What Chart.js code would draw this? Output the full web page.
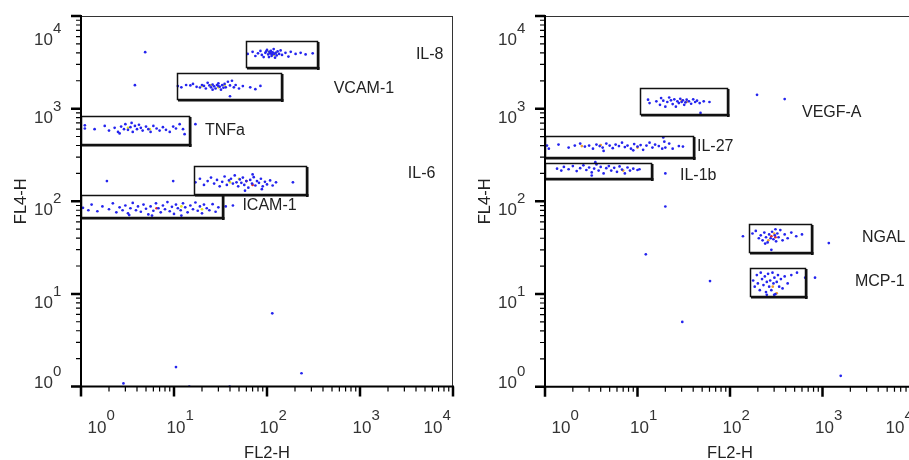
<!DOCTYPE html>
<html><head><meta charset="utf-8">
<script src="https://cdn.jsdelivr.net/npm/chart.js@4.4.1/dist/chart.umd.min.js"></script>
<style>
html,body{margin:0;padding:0;background:#fff;overflow:hidden;width:909px;height:460px;position:relative;}
#c1{position:absolute;left:0;top:0;}
#c2{position:absolute;left:460px;top:0;}
</style></head><body>
<canvas id="c1" width="460" height="460"></canvas>
<canvas id="c2" width="470" height="460"></canvas>
<script>
// ---- axes ----
const tickValues = [1, 10, 100, 1000, 10000];
const tickExponents = ['0', '1', '2', '3', '4'];
const xTitle = 'FL2-H';
const yTitle = 'FL4-H';

// ---- left plot clusters [FL2-H, FL4-H] ----
const il8 = [[62,3900],[70,4100],[75,3700],[80,3950],[85,4200],[88,3800],[92,3600],[96,4000],[100,4300],[103,3850],[106,4100],[109,3950],[112,3700],[115,4050],[118,4400],[120,3900],[124,4000],[127,3750],[130,4150],[135,3900],[140,4250],[145,3800],[158,4000],[170,3650],[180,4100],[203,3900],[230,4000],[260,3850],[310,3950],[105,3600],[98,4150],[110,4200],[114,3850],[122,3550]];
const vcam1 = [[11,1750],[12,1700],[13.5,1800],[15,1780],[16,1850],[17.5,1720],[19,1690],[20,1800],[21,1760],[22,1650],[23,1900],[24,1780],[25,1700],[26,1820],[27,1740],[28,1650],[29,1800],[30,1880],[31,1720],[32,1600],[33,1790],[35,1850],[36,1700],[38,1950],[40,1780],[42,2000],[44,1700],[46,1800],[50,1650],[55,1750],[66,1700],[75,1620],[85,1760],[40,1360],[34,1680],[26,1600],[30,1760]];
const tnfa = [[1.1,610],[1.1,660],[1.4,600],[1.8,650],[2.0,580],[2.3,620],[2.5,560],[2.7,640],[2.9,600],[3.0,680],[3.2,590],[3.4,630],[3.6,560],[3.8,650],[4.0,600],[4.2,670],[4.4,620],[4.6,580],[5.0,640],[5.3,600],[5.6,560],[6.0,650],[6.5,610],[7.0,580],[7.6,630],[8.2,590],[9.0,560],[9.8,640],[10.5,610],[11.5,680],[12.5,600],[13,530],[2.6,540],[3.5,700],[17,680]];
const il6 = [[17,160],[19,175],[21,150],[23,165],[25,180],[27,155],[29,170],[31,145],[33,162],[35,185],[37,150],[39,168],[41,175],[43,155],[45,190],[47,160],[49,145],[51,172],[53,158],[55,180],[57,150],[60,165],[63,140],[66,170],[69,155],[72,182],[75,148],[78,165],[82,158],[86,175],[90,145],[95,162],[100,152],[108,168],[115,148],[125,160],[190,160],[58,130],[70,195],[88,135]];
const icam1 = [[1.05,85],[1.2,80],[1.3,92],[1.5,78],[1.7,88],[2.0,82],[2.2,95],[2.4,76],[2.6,86],[2.8,80],[3.0,90],[3.2,74],[3.4,84],[3.6,96],[3.9,80],[4.1,88],[4.4,77],[4.7,92],[5.0,83],[5.3,72],[5.6,88],[6.0,79],[6.4,95],[6.8,84],[7.2,76],[7.6,90],[8.0,82],[8.5,98],[9.0,78],[9.5,87],[10,73],[10.5,92],[11,84],[11.8,80],[12.5,95],[13.2,86],[14,76],[15,90],[16,82],[17,97],[18,79],[19,88],[20,74],[21,92],[22.5,84],[24,80],[26,93],[28,77],[30,86],[5.8,70],[3.3,71],[12,70],[36,88],[43,90]];
const leftStray = [[4.9,4070],[3.8,1790],[1.9,165],[9.8,165],[2.86,1.08],[10.5,1.62],[14.6,1.0],[39.7,1.0],[114,6.16],[235,1.39]];
const leftHotYellow = [[105,4100],[118,3800],[125,4000],[20,1750],[25,1800],[30,1700],[35,1780],[3.2,620],[5.5,600],[40,160],[50,175],[12,88],[20,82]];
const leftHotRed = [[110,3950],[60,165],[70,150],[6.5,84]];

// ---- right plot clusters ----
const vegfa = [[13,1250],[13.5,1150],[16,1200],[17.5,1100],[18,1300],[19,1220],[20,1050],[21,1180],[22,1320],[23,1230],[24,1120],[25,1260],[26,1050],[27,1200],[28,1150],[29,1280],[30,1180],[31,1230],[32,1100],[33,1170],[34,1250],[36,1200],[38,1130],[40,1260],[42,1180],[44,1220],[47,1150],[52,1200],[60,1180],[48,900]];
const il27 = [[1.05,400],[1.1,370],[1.4,410],[1.8,380],[2.1,400],[2.4,420],[2.7,390],[3.0,400],[3.3,370],[3.6,410],[3.9,395],[4.2,380],[4.6,420],[5.0,400],[5.4,375],[5.8,410],[6.3,395],[6.8,430],[7.3,385],[7.8,400],[8.5,370],[9.2,415],[10,390],[10.8,405],[11.5,360],[12.5,400],[13.5,430],[14.5,380],[15.5,410],[17,395],[18.5,370],[19.5,440],[20,380],[22,420],[24,370],[28,395],[31,390],[19,490],[4.3,350],[9,355]];
const il1b = [[1.35,225],[1.5,215],[1.6,235],[1.8,222],[2.0,240],[2.2,212],[2.4,228],[2.6,245],[2.8,218],[3.0,232],[3.2,205],[3.4,226],[3.6,250],[3.8,215],[4.0,235],[4.3,200],[4.6,228],[4.9,240],[5.2,215],[5.6,230],[6.0,208],[6.4,238],[6.8,220],[7.3,200],[7.8,232],[8.3,215],[9.0,225],[10,218],[10.5,222],[3.5,265],[3.2,190]];
const ngal = [[175,45],[190,48],[205,40],[215,43],[225,38],[235,46],[245,41],[255,36],[265,44],[275,40],[285,47],[295,39],[305,43],[315,37],[325,45],[335,41],[350,49],[370,38],[390,44],[420,40],[460,46],[520,42],[600,44],[280,30],[240,35],[310,50]];
const mcp1 = [[178,14],[185,12],[195,16],[200,13],[210,11],[215,17],[222,14.5],[230,12.5],[238,15.5],[245,10.5],[250,13.5],[258,16.5],[265,12],[272,14],[280,11],[288,17],[295,13],[302,15],[310,10],[320,13.5],[330,16],[340,12],[355,14.5],[370,11.5],[390,15.5],[420,13],[460,16],[530,17],[300,9.8],[250,9.8]];
const rightStray = [[196,1410],[390,1270],[20,200],[20,88],[12.3,26.8],[60.8,13.8],[30.5,5.0],[1574,1.31],[138,42],[1170,35.5],[650,15],[830,15]];
const rightHotOrange = [[30,1220],[34,1180],[2.5,395],[4,405],[10,380],[7,215],[300,45],[260,38],[290,12],[320,10.2]];
const rightHotRed = [[280,42],[310,41]];

// ---- gates [xmin,xmax],[ymin,ymax] ----
const leftGates = [
  {x:[59.7,348], y:[2818,5333]},
  {x:[10.8,140], y:[1263,2427]},
  {x:[1,14.4],   y:[410,834]},
  {x:[16.3,260], y:[121,239]},
  {x:[1,32.9],   y:[67.9,116]}
];
const rightGates = [
  {x:[10.6,93.5], y:[875,1680]},
  {x:[1,39.5],    y:[303,506]},
  {x:[1,13.9],    y:[180,257]},
  {x:[160,746],   y:[28.2,56.9]},
  {x:[164,647],   y:[9.5,19.2]}
];
// ---- gate names and anchors ----
const leftLabels = [
  {t:'IL-8',   x:3990, y:3860},
  {t:'VCAM-1', x:521,  y:1660},
  {t:'TNFa',   x:21.5, y:585},
  {t:'IL-6',   x:3270, y:201},
  {t:'ICAM-1', x:54.4, y:89}
];
const rightLabels = [
  {t:'VEGF-A', x:600,  y:897},
  {t:'IL-27',  x:44,   y:385},
  {t:'IL-1b',  x:28.8, y:192},
  {t:'NGAL',   x:2670, y:40.7},
  {t:'MCP-1',  x:2245, y:13.5}
];

const BLUE = '#2424ee', YELLOW = '#e4e420', ORANGE = '#f0a030', RED = '#e02828';
const FONT = '"Liberation Sans", Arial, sans-serif';
const pts = a => a.map(p => ({x:p[0], y:p[1]}));

const flowPlugin = {
  id: 'flow',
  afterDatasetsDraw(chart, args, o) {
    const {ctx, scales:{x, y}} = chart;
    ctx.save();
    ctx.strokeStyle = '#111'; ctx.fillStyle = '#111';
    o.gates.forEach(g => {
      const x0 = Math.round(x.getPixelForValue(g.x[0])), x1 = Math.round(x.getPixelForValue(g.x[1]));
      const y0 = Math.round(y.getPixelForValue(g.y[1])), y1 = Math.round(y.getPixelForValue(g.y[0]));
      ctx.lineWidth = 1.5;
      ctx.strokeRect(x0 + 0.5, y0 + 0.5, x1 - x0, y1 - y0);
      ctx.fillRect(x1, y0 + 1, 2.5, y1 - y0 + 2);
      ctx.fillRect(x0 + 1, y1, x1 - x0 + 1.5, 2.5);
    });
    ctx.font = '16px ' + FONT; ctx.fillStyle = '#222';
    ctx.textAlign = 'left'; ctx.textBaseline = 'middle';
    o.labels.forEach(l => ctx.fillText(l.t, x.getPixelForValue(l.x), y.getPixelForValue(l.y)));
    ctx.restore();
  },
  afterDraw(chart) {
    const {ctx, chartArea:a, scales:{x, y}} = chart;
    ctx.save();
    // frame
    ctx.strokeStyle = '#333'; ctx.lineWidth = 1;
    ctx.beginPath();
    ctx.moveTo(a.left, a.top + 0.5); ctx.lineTo(a.right, a.top + 0.5);
    ctx.moveTo(a.right - 0.5, a.top); ctx.lineTo(a.right - 0.5, a.bottom);
    ctx.stroke();
    ctx.strokeStyle = '#000'; ctx.lineWidth = 2;
    ctx.beginPath();
    ctx.moveTo(a.left, a.top - 1); ctx.lineTo(a.left, a.bottom); ctx.lineTo(a.right + 1, a.bottom);
    ctx.stroke();
    // ticks
    for (let k = 0; k < tickValues.length; k++) {
      for (let m = 1; m <= 9; m++) {
        if (k === tickValues.length - 1 && m > 1) break;
        const v = m * tickValues[k];
        const major = m === 1;
        const len = major ? 10 : 5;
        ctx.lineWidth = major ? 2.5 : 1.2;
        const px = x.getPixelForValue(v), py = y.getPixelForValue(v);
        ctx.beginPath();
        ctx.moveTo(px, a.bottom); ctx.lineTo(px, a.bottom + len);
        ctx.moveTo(a.left, py); ctx.lineTo(a.left - len, py);
        ctx.stroke();
      }
    }
    // tick labels
    ctx.fillStyle = '#333'; ctx.textBaseline = 'alphabetic';
    const last = tickValues.length - 1;
    tickValues.forEach((v, i) => {
      const px = x.getPixelForValue(v);
      const cx = px + (i === 0 ? 16 : i === last ? -20 : 2);
      ctx.font = '17px ' + FONT;
      const w = ctx.measureText('10').width;
      ctx.textAlign = 'center';
      ctx.fillText('10', cx, a.bottom + 46);
      ctx.font = '15px ' + FONT; ctx.textAlign = 'left';
      ctx.fillText(tickExponents[i], cx + w / 2, a.bottom + 33.5);
      const py = y.getPixelForValue(v);
      const by = py + (i === 0 ? 1 : i === last ? 29 : 14);
      ctx.font = '17px ' + FONT; ctx.textAlign = 'right';
      ctx.fillText('10', a.left - 28, by);
      ctx.font = '15px ' + FONT; ctx.textAlign = 'left';
      ctx.fillText(tickExponents[i], a.left - 28, by - 12);
    });
    // titles
    ctx.font = '16.5px ' + FONT; ctx.fillStyle = '#222';
    ctx.textAlign = 'center'; ctx.textBaseline = 'alphabetic';
    ctx.fillText(xTitle, (a.left + a.right) / 2, a.bottom + 71);
    ctx.translate(a.left - 60, (a.top + a.bottom) / 2);
    ctx.rotate(-Math.PI / 2);
    ctx.textBaseline = 'middle';
    ctx.fillText(yTitle, 0, 0);
    ctx.restore();
  }
};

function makeChart(id, groups, hot1, hot1Color, hot2, gates, labels, padding) {
  const datasets = groups.map(g => ({data: pts(g), backgroundColor: BLUE}));
  datasets.push({data: pts(hot1), backgroundColor: hot1Color});
  datasets.push({data: pts(hot2), backgroundColor: RED});
  return new Chart(document.getElementById(id), {
    type: 'scatter',
    data: {datasets},
    options: {
      responsive: false, animation: false, devicePixelRatio: 1,
      layout: {padding},
      plugins: {legend: {display: false}, tooltip: {enabled: false}, flow: {gates, labels}},
      scales: {
        x: {type: 'logarithmic', min: 1, max: 10000, display: false},
        y: {type: 'logarithmic', min: 1, max: 10000, display: false}
      },
      elements: {point: {radius: 1.35, hoverRadius: 1.35, borderWidth: 0}}
    },
    plugins: [flowPlugin]
  });
}

makeChart('c1', [il8, vcam1, tnfa, il6, icam1, leftStray], leftHotYellow, YELLOW, leftHotRed,
  leftGates, leftLabels, {left: 81, right: 7, top: 16, bottom: 73.5});
makeChart('c2', [vegfa, il27, il1b, ngal, mcp1, rightStray], rightHotOrange, ORANGE, rightHotRed,
  rightGates, rightLabels, {left: 85, right: 15, top: 16, bottom: 73.3});
</script>
</body></html>
